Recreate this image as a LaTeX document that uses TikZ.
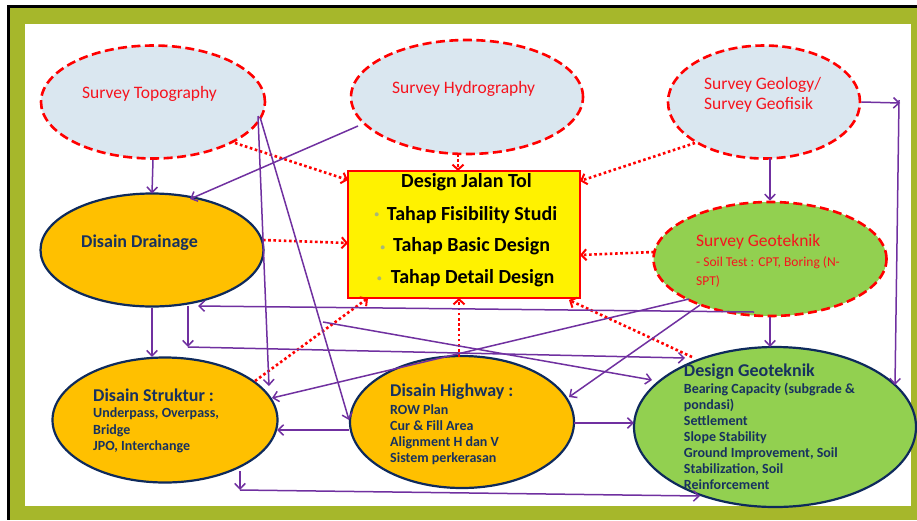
\documentclass[tikz,border=0pt]{standalone}
\usepackage{fontspec}
\setmainfont{Carlito}
\usetikzlibrary{arrows.meta,shapes.geometric}
\definecolor{frameol}{HTML}{A6B72B}
\definecolor{lblue}{HTML}{DAE7F0}
\definecolor{orng}{HTML}{FFC000}
\definecolor{lgreen}{HTML}{92D050}
\definecolor{navyb}{HTML}{0E2A5C}
\definecolor{navyt}{HTML}{17315F}
\definecolor{purp}{HTML}{7030A0}
\definecolor{redt}{HTML}{F5141E}
\definecolor{bulc}{HTML}{A8B77A}
\newcommand\mylines[1]{\begin{tabular}[t]{@{}l@{}}#1\end{tabular}}
\begin{document}
\begin{tikzpicture}[x=1pt,y=-1pt,
  survey/.style={ellipse, draw=red, fill=lblue, line width=2.6pt, dash pattern=on 9pt off 4.5pt, inner sep=0pt},
  sgeostyle/.style={survey, fill=lgreen},
  orell/.style={ellipse, draw=navyb, fill=orng, line width=2.2pt, inner sep=0pt},
  grell/.style={ellipse, draw=navyb, fill=lgreen, line width=2.2pt, inner sep=0pt},
  boxstyle/.style={rectangle, draw=red, fill=yellow, line width=2.8pt, inner sep=0pt},
  conn/.style={draw=purp, line width=1.5pt, -{Straight Barb[length=5.5pt,width=10.5pt]}},
  dotc/.style={draw=red, line width=2.6pt, dash pattern=on 2.6pt off 2.6pt, -{Straight Barb[length=5pt,width=11pt,line width=2pt]}},
  stxt/.style={anchor=base west, inner sep=0pt, text=redt, font=\fontsize{17.5}{20}\selectfont},
  btxt/.style={anchor=base west, inner sep=0pt, text=black, font=\bfseries\fontsize{20}{24}\selectfont},
  ttl/.style={anchor=base west, inner sep=0pt, text=navyt, font=\bfseries\fontsize{18}{21}\selectfont},
  body/.style={anchor=base west, inner sep=0pt, text=navyt, font=\bfseries\fontsize{14}{#1}\selectfont},
  bul/.style={circle, fill=bulc, inner sep=0pt, minimum size=4pt}
]
\useasboundingbox (0,0) rectangle (917,520);
% frame
\fill[white] (0,0) rectangle (917,520);
\fill[black] (7,5) rectangle (917,7.5);
\fill[black] (7,5) rectangle (9.5,520);
\fill[frameol] (9.5,7.5) rectangle (917,520);
\fill[white] (25,24) rectangle (911,506);

% shapes
\node[survey, minimum width=224pt, minimum height=113pt] (topo) at (153,102) {};
\node[survey, minimum width=232pt, minimum height=114pt] (hydro) at (467,97) {};
\node[survey, minimum width=192pt, minimum height=113pt] (geol) at (764,102) {};
\node[boxstyle, minimum width=232pt, minimum height=127pt] (box) at (464,234.5) {};
\node[orell, minimum width=223pt, minimum height=113pt] (drain) at (152,250) {};
\node[sgeostyle, minimum width=233pt, minimum height=114pt] (sgeo) at (770,259) {};
\node[orell, minimum width=225pt, minimum height=125pt] (strk) at (165,420) {};
\node[orell, minimum width=224pt, minimum height=132pt] (hway) at (462,422) {};
\node[grell, minimum width=282pt, minimum height=160pt] (dgeo) at (775,427) {};

\coordinate (gR) at (900,103);
\coordinate (cD) at (188,347);
\coordinate (cS) at (323,322);
\coordinate (cB) at (240,490);

% dotted red connectors
\draw[dotc] ([shift={(82,41)}]topo.center) -- ([shift={(-116,-54.5)}]box.center);
\draw[dotc] ([shift={(-9,57)}]hydro.center) -- ([shift={(-6,-63.5)}]box.center);
\draw[dotc] ([shift={(-69,41)}]geol.center) -- ([shift={(116,-53.5)}]box.center);
\draw[dotc] ([shift={(111,-10)}]drain.center) -- ([shift={(-116,8.5)}]box.center);
\draw[dotc] ([shift={(-116,-7)}]sgeo.center) -- ([shift={(116,20.5)}]box.center);
\draw[dotc] ([shift={(90,-39)}]strk.center) -- ([shift={(-96,63.5)}]box.center);
\draw[dotc] ([shift={(-3,-65)}]hway.center) -- ([shift={(-5,63.5)}]box.center);
\draw[dotc] ([shift={(-83,-70)}]dgeo.center) -- ([shift={(105,65.5)}]box.center);

% purple connectors
\draw[conn] (topo.south) -- ([shift={(0,-56.5)}]drain.center);
\draw[conn] ([shift={(-109,29)}]hydro.center) -- ([shift={(38,-51)}]drain.center);
\draw[conn] ([shift={(6,56)}]geol.center) -- (sgeo.north);
\draw[conn] (geol.east) -- (gR);
\draw[conn] ([shift={(-1,-3)}]gR) -- ([shift={(120,-42)}]dgeo.center);
\draw[conn] ([shift={(105,14)}]topo.center) -- ([shift={(104,-34)}]strk.center);
\draw[conn] ([shift={(107,15)}]topo.center) -- ([shift={(-113,-2)}]hway.center);
\draw[conn] (drain.south) -- ([shift={(-13,-63)}]strk.center);
\draw[conn] ([shift={(-16,53)}]sgeo.center) -- ([shift={(46,56)}]drain.center);
\draw[conn] ([shift={(36,56)}]drain.center) -- (cD);
\draw[conn] (cD) -- ([shift={(-90,-69)}]dgeo.center);
\draw[conn] (cS) -- ([shift={(-123,-47)}]dgeo.center);
\draw[conn] ([shift={(-81,40)}]sgeo.center) -- ([shift={(107,-22)}]strk.center);
\draw[conn] ([shift={(-70,46)}]sgeo.center) -- ([shift={(107,-25)}]hway.center);
\draw[conn] ([shift={(112,1)}]hway.center) -- ([shift={(-141,-4)}]dgeo.center);
\draw[conn] ([shift={(-113,8)}]hway.center) -- ([shift={(112,10)}]strk.center);
\draw[conn] ([shift={(75,51)}]strk.center) -- (cB);
\draw[conn] (cB) -- ([shift={(-75,69)}]dgeo.center);
\draw[conn] (sgeo.south) -- ([shift={(-5,-80)}]dgeo.center);

% texts
\node[stxt] (t1) at (82,98.3) {Survey Topography};
\node[stxt] (t2) at (392,93.3) {Survey Hydrography};
\node[stxt] (t3) at (704,89.3) {Survey Geology/};
\node[stxt] (t4) at (704,109.3) {Survey Geofisik};
\node[stxt] (t5) at (696,246.7) {Survey Geoteknik};
\node[stxt, font=\fontsize{13.5}{18.3}\selectfont] (t6) at (696,266.7) {\mylines{- Soil Test : CPT, Boring (N-\\SPT)}};

\node[btxt, anchor=base] (b0) at (466.5,187.3) {Design Jalan Tol};
\node[btxt] (b1) at (386.7,220) {Tahap Fisibility Studi};
\node[btxt] (b2) at (393,251.7) {Tahap Basic Design};
\node[btxt] (b3) at (390.7,283.3) {Tahap Detail Design};
\node[bul] (u1) at (376.7,214.3) {};
\node[bul] (u2) at (382.7,247.3) {};
\node[bul] (u3) at (379.3,278.3) {};

\node[ttl] (d1) at (81,247.3) {Disain Drainage};
\node[ttl] (s1) at (93,401.7) {Disain Struktur :};
\node[body=16.7] (s2) at (93,417.3) {\mylines{Underpass, Overpass,\\Bridge\\JPO, Interchange}};
\node[ttl] (h1) at (390,396) {Disain Highway :};
\node[body=16] (h2) at (390,414) {\mylines{ROW Plan\\Cur \& Fill Area\\Alignment H dan V\\Sistem perkerasan}};
\node[ttl] (g1) at (683.7,376) {Design Geoteknik};
\node[body=16.1] (g2) at (683.7,393.3) {\mylines{Bearing Capacity (subgrade \&\\pondasi)\\Settlement\\Slope Stability\\Ground Improvement, Soil\\Stabilization, Soil\\Reinforcement}};
\end{tikzpicture}
\end{document}
